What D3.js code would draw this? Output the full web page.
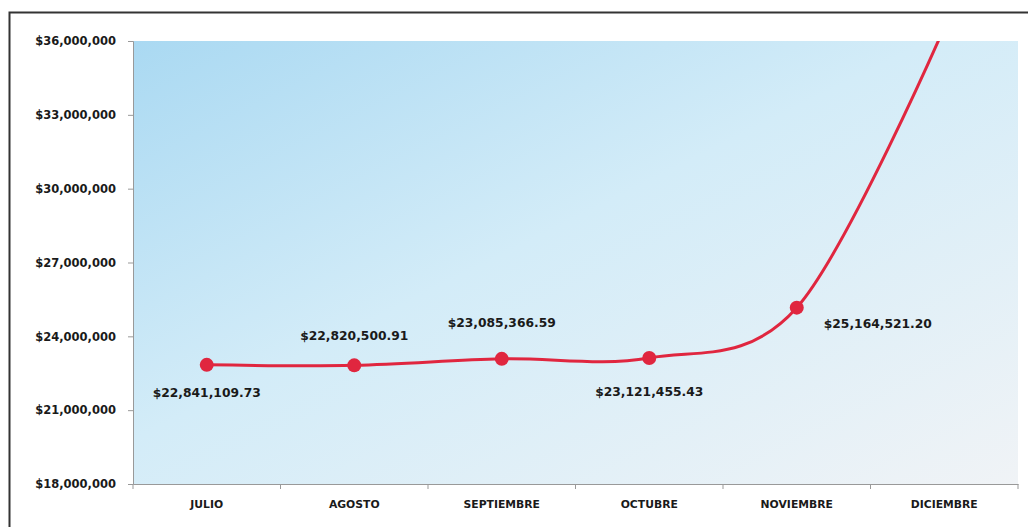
<!DOCTYPE html>
<html><head><meta charset="utf-8">
<script src="https://cdn.jsdelivr.net/npm/d3@7"></script>
<style>body{margin:0;background:#fff}svg{display:block}</style>
</head><body>
<script>
const categories = ["JULIO","AGOSTO","SEPTIEMBRE","OCTUBRE","NOVIEMBRE","DICIEMBRE"];
const values = [22841109.73, 22820500.91, 23085366.59, 23121455.43, 25164521.20, 36550000];
const dataLabels = ["$22,841,109.73","$22,820,500.91","$23,085,366.59","$23,121,455.43","$25,164,521.20", null];
const labelPos = ["below","above","above","below","right", null];
const yTicks = [18000000,21000000,24000000,27000000,30000000,33000000,36000000];

const W=1028,H=528, m={l:133,t:41,r:1018,b:484};
const svg=d3.select("body").append("svg").attr("width",W).attr("height",H);
const defs=svg.append("defs");
const g=defs.append("linearGradient").attr("id","bg").attr("x1","0").attr("y1","0").attr("x2","1").attr("y2","1");
g.append("stop").attr("offset","0").attr("stop-color","#aad9f2");
g.append("stop").attr("offset","0.45").attr("stop-color","#d3ecf8");
g.append("stop").attr("offset","1").attr("stop-color","#f0f3f6");
defs.append("clipPath").attr("id","clip").append("rect").attr("x",m.l).attr("y",m.t).attr("width",m.r-m.l).attr("height",m.b-m.t);

svg.append("path").attr("d",`M9.5,527 V12.5 H1028`).attr("fill","none").attr("stroke","#333").attr("stroke-width",2);

const x=d3.scaleBand().domain(categories).range([m.l,m.r]);
const y=d3.scaleLinear().domain([18000000,36000000]).range([m.b,m.t]);

svg.append("rect").attr("x",m.l).attr("y",m.t).attr("width",m.r-m.l).attr("height",m.b-m.t).attr("fill","url(#bg)");

const FONT="DejaVu Sans, Verdana, sans-serif";
const fmt=d=>"$"+d3.format(",")(d);
const ya=svg.append("g").attr("transform",`translate(${m.l},0)`).call(d3.axisLeft(y).tickValues(yTicks).tickFormat(fmt).tickSize(5).tickPadding(12));
ya.selectAll("path,line").attr("stroke","#999");
ya.selectAll("text").attr("font-family",FONT).attr("font-weight","bold").attr("font-size","11.5px").attr("fill","#1a1a1a");

const xa=svg.append("g").attr("transform",`translate(0,${m.b})`).call(d3.axisBottom(x).tickSize(0).tickPadding(16));
xa.select("path").attr("stroke","#999");
xa.selectAll("text").attr("font-family",FONT).attr("font-weight","bold").attr("font-size","10.8px").attr("fill","#1a1a1a");
svg.append("g").selectAll("line").data(d3.range(categories.length+1)).join("line")
  .attr("x1",i=>m.l+i*x.step()).attr("x2",i=>m.l+i*x.step()).attr("y1",m.b).attr("y2",m.b+5).attr("stroke","#999");

const pts=categories.map((c,i)=>({c,v:values[i],lab:dataLabels[i],pos:labelPos[i],i}));
const line=d3.line().x(d=>x(d.c)+x.bandwidth()/2).y(d=>y(d.v)).curve(d3.curveCardinal.tension(0));
const plot=svg.append("g").attr("clip-path","url(#clip)");
plot.append("path").datum(pts).attr("d",line).attr("fill","none").attr("stroke","#e0263f").attr("stroke-width",3);
plot.selectAll("circle").data(pts.filter(d=>d.lab)).join("circle")
  .attr("cx",d=>x(d.c)+x.bandwidth()/2).attr("cy",d=>y(d.v)).attr("r",7).attr("fill","#e0263f");

const dyBy=[32,-25,-32,38,20];
svg.append("g").selectAll("text").data(pts.filter(d=>d.lab)).join("text")
  .attr("x",d=>x(d.c)+x.bandwidth()/2+(d.pos==="right"?27:0))
  .attr("y",d=>y(d.v)+dyBy[d.i])
  .attr("text-anchor",d=>d.pos==="right"?"start":"middle")
  .attr("font-family",FONT).attr("font-weight","bold").attr("font-size","12.3px").attr("fill","#1a1a1a")
  .text(d=>d.lab);
</script>
</body></html>
